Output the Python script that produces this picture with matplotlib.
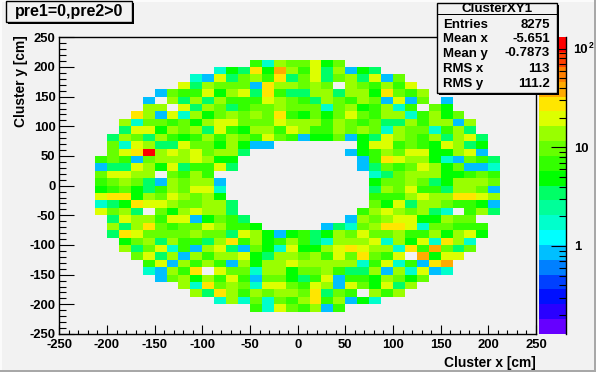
import numpy as np
import matplotlib
matplotlib.use("Agg")
import matplotlib.pyplot as plt
from matplotlib.colors import ListedColormap, BoundaryNorm
from matplotlib.patches import Rectangle
from matplotlib.ticker import FixedLocator, NullFormatter, MultipleLocator

W, H = 596, 372
BG = "#f2f2f2"
FONT = "Liberation Sans"
plt.rcParams["font.family"] = FONT
plt.rcParams["font.weight"] = "bold"
plt.rcParams["axes.unicode_minus"] = False

# bin counts, coded by letter; "." = empty bin inside the ring
code_to_count = {".": 0, "a": 1, "b": 2, "c": 3, "d": 5, "e": 7, "f": 10, "g": 14,
                 "h": 19, "i": 27, "j": 38, "R": 110}
row_start = [16, 13, 11, 10, 8, 7, 7, 6, 5, 5, 4, 4, 4, 3, 3, 3, 3, 3, 3, 3, 3, 4,
             4, 4, 5, 5, 6, 7, 7, 8, 10, 11, 13, 16]
row_cells = [
    "ebgffhdf",
    "bdcidjgehcgadc",
    "bahcfgeicfhcfgchaf",
    "hcgfffaiggfgf.gfegeh",
    "afeehdghcieccggcggdifeg",
    "a.gcgcgeeehgfecgfegfahaf.a",
    "gg.hcgfceffgfffbfgdegbe.fd",
    "igahbgdfgfgfiedfdfhfeggbegdf",
    "gbffefdghhfffhgggegfefccgeggag",
    "chhdgfgchedggehgeegfgfbgffbegc",
    "cgfcgedegegfehfeaddfadchgfegcghc",
    "fbhgcchffdgdaa" + "......." + "dhhefedhgcd",
    "fhiRghghfggc" + "........" + "adegfhhddgha",
    "efeafggghgdd" + ".........." + "aeihggdbafec",
    "acchgdhceehc" + ".........." + "acfefhgdfaab",
    "fhhgg.fege" + "............." + "bcfgggddefe",
    "efgfcagfgga" + "............" + "dffgfcdgggf",
    "defdcegfhhb" + "............" + "cgfheecggfa",
    "hiidgfhgfgd" + "............" + "eeeghggiihg",
    "bcdihhgffggc" + "..........." + "fdhcggfeeda",
    "hfgc.fdghggc" + ".........." + "eghgfgcb.egc",
    "chggehhadfec" + "........" + "agfghhddgff",
    "gcgifeffhgeed" + "....." + "acbfgiihbffeee",
    "cihffffgffchgdad" + "ecdgfhffgeegdghd",
    "dfgcgeecgiegdeg" + "ecbggghbgdhbigb",
    "gcfhbeaghcafdbh" + "ddghihggbiejfcf",
    "fhcgagegghdcgg" + "fgehfifeh.jdhh",
    "ehagegeagdggh" + "gggggbehbeaij",
    "bagei.hffbggd" + "ffgeccgagbhab",
    "afgdgeheaffd" + "cehaeedgfdf",
    "gbifgfbhhf" + "ehgahfdhcg",
    "gcigegfgg" + "ficfe.geg",
    "bgbfbfe" + "giegadb",
    "ebhf" + "egae",
]
first_row = 3
x_edges = np.linspace(-250, 250, 41)
y_edges = np.linspace(250, -250, 41)

# colour levels: 20 equal log steps between the palette limits
log_zmin, log_zmax = -0.892, 2.115
palette = ["#6600ff", "#2a00ff", "#0010ff", "#0040ff", "#0080ff", "#00bfff", "#00ffff",
           "#00ffcc", "#00ff99", "#00ff66", "#00ff00", "#33ff00", "#66ff00", "#99ff00",
           "#ddff00", "#ffe600", "#ffaa00", "#ff8000", "#ff4000", "#ff0000"]
levels = 10 ** np.linspace(log_zmin, log_zmax, 21)

counts = np.full((40, 40), np.nan)
for j, (s, cells) in enumerate(zip(row_start, row_cells)):
    for k, ch in enumerate(cells):
        if ch != ".":
            counts[first_row + j, s + k] = code_to_count[ch]
counts = np.ma.masked_invalid(counts)

cmap = ListedColormap(palette)
cmap.set_bad((0, 0, 0, 0))
norm = BoundaryNorm(levels, cmap.N, clip=False)

fig = plt.figure(figsize=(W / 100, H / 100), dpi=100, facecolor=BG)


def px_axes(l, t, r, b):
    return fig.add_axes([l / W, 1 - b / H, (r - l) / W, (b - t) / H])


def px_rect(l, t, r, b, **kw):
    fig.add_artist(Rectangle((l / W, 1 - b / H), (r - l) / W, (b - t) / H,
                             transform=fig.transFigure, **kw))


# canvas bevel
px_rect(0, 0, 596, 2, fc="#fbfbfb", ec="none", zorder=-5)
px_rect(0, 0, 2, 372, fc="#fbfbfb", ec="none", zorder=-5)
px_rect(0, 370, 596, 372, fc="#a8a8a8", ec="none", zorder=-4)
px_rect(594, 0, 596, 372, fc="#a8a8a8", ec="none", zorder=-4)

ax = px_axes(59.3, 37.3, 536, 334)
ax.set_facecolor(BG)
ax.pcolormesh(x_edges, y_edges, counts, cmap=cmap, norm=norm, linewidth=0, antialiased=False)
ax.set_xlim(-250, 250)
ax.set_ylim(-250, 250)
for sp in ax.spines.values():
    sp.set_linewidth(1.0)
ax.xaxis.set_major_locator(MultipleLocator(50))
ax.yaxis.set_major_locator(MultipleLocator(50))
ax.xaxis.set_minor_locator(MultipleLocator(10))
ax.yaxis.set_minor_locator(MultipleLocator(10))
ax.tick_params(axis="x", which="major", direction="in", length=6.5, width=0.8, labelsize=9.4, pad=3.5)
ax.tick_params(axis="x", which="minor", direction="in", length=3.2, width=0.8)
ax.tick_params(axis="y", which="major", direction="in", length=10.5, width=0.8, labelsize=9.4, pad=2.8)
ax.tick_params(axis="y", which="minor", direction="in", length=5.2, width=0.8)
ax.set_axisbelow(False)

fig.text(535.7 / W, 1 - 362.7 / H, "Cluster x [cm]", ha="right", va="center", fontsize=9.9)
fig.text(21.5 / W, 1 - 35.5 / H, "Cluster y [cm]", ha="center", va="top", rotation=90, fontsize=9.9)

# palette axis
cax = px_axes(539, 37.3, 566.3, 334)
cax.set_yscale("log")
cax.pcolormesh([0, 1], levels, np.arange(20).reshape(-1, 1) + 0.5, cmap=cmap,
               norm=BoundaryNorm(np.arange(21), 20), linewidth=0, antialiased=False)
cax.set_xlim(0, 1)
cax.set_ylim(levels[0], levels[-1])
for name in ["left", "top", "bottom"]:
    cax.spines[name].set_visible(False)
cax.spines["right"].set_linewidth(1.0)
cax.set_xticks([])
cax.yaxis.set_major_locator(FixedLocator([1, 10, 100]))
cax.yaxis.set_minor_locator(FixedLocator([d * m for d in (0.1, 1, 10) for m in range(2, 10)]))
cax.yaxis.set_minor_formatter(NullFormatter())
cax.set_yticklabels(["1", "10", ""])
cax.yaxis.tick_right()
cax.tick_params(axis="y", which="major", direction="in", length=10.5, width=0.8, labelsize=9.4, pad=5.5)
cax.tick_params(axis="y", which="minor", direction="in", length=5.2, width=0.8)
fig.text(573.5 / W, 1 - 50 / H, "10", ha="left", va="center", fontsize=9.4)
fig.text(588.5 / W, 1 - 45 / H, "2", ha="left", va="center", fontsize=6.2)

# title box
px_rect(8, 3, 134, 24, fc="black", ec="none", zorder=5)
px_rect(6, 1, 132, 22, fc=BG, ec="black", lw=1, zorder=6)
fig.text(69 / W, 1 - 11.5 / H, "pre1=0,pre2>0", ha="center", va="center", fontsize=11.5, zorder=7)

# stats box
px_rect(438.5, 4.5, 558.5, 94.5, fc="black", ec="none", zorder=5)
px_rect(436.7, 2.7, 556.7, 92.7, fc=BG, ec="black", lw=1, zorder=6)
px_rect(436.7, 14, 556.7, 14.6, fc="black", ec="none", zorder=7)
fig.text(496.7 / W, 1 - 9.5 / H, "ClusterXY1", ha="center", va="center", fontsize=9.6, zorder=7)
stat_names = ["Entries", "Mean x", "Mean y", "RMS x", "RMS y"]
stat_values = ["8275", "-5.651", "-0.7873", "113", "111.2"]
stat_y = [24.5, 39.5, 53.5, 69, 84]
for name, val, y in zip(stat_names, stat_values, stat_y):
    fig.text(442.7 / W, 1 - y / H, name, ha="left", va="center", fontsize=9.5, zorder=7)
    fig.text(550 / W, 1 - y / H, val, ha="right", va="center", fontsize=9.5, zorder=7)

fig.savefig("out.png", dpi=100, facecolor=BG)
